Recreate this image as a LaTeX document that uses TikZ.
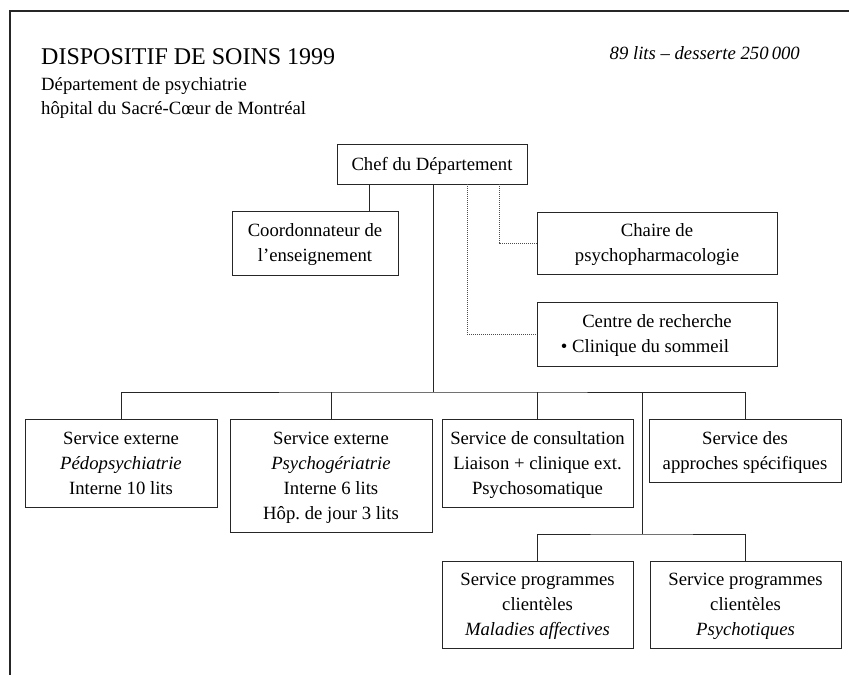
\documentclass[tikz,border=0pt]{standalone}
\usepackage{fontspec}
\setmainfont{Liberation Serif}
\frenchspacing
\begin{document}
\begin{tikzpicture}[x=1pt,y=-1pt,
  box/.style={draw=black!85, line width=0.9pt, inner sep=0pt, align=center,
    text depth=0pt, font=\fontsize{18.7}{25}\selectfont\frenchspacing},
  link/.style={draw=black!85, line width=0.9pt},
  dotlink/.style={draw=black!70, line width=0.9pt, dash pattern=on 1pt off 1pt},
  frame/.style={draw=black!85, line width=1.4pt}]
\useasboundingbox (0,0) rectangle (849,675);
% frame
\coordinate (fa) at (849,11);
\coordinate (fb) at (10,11);
\coordinate (fc) at (10,675);
\draw[frame] (fa) -- (fb) -- (fc);
% header texts
\node[anchor=base west, inner sep=0pt, font=\fontsize{24}{28}\selectfont] (title) at (41,64) {DISPOSITIF DE SOINS 1999};
\node[anchor=base west, inner sep=0pt, font=\fontsize{18.7}{24}\selectfont] (sub1) at (41,90) {Département de psychiatrie};
\node[anchor=base west, inner sep=0pt, font=\fontsize{18.7}{24}\selectfont] (sub2) at (41,114) {hôpital du Sacré-Cœur de Montréal};
\node[anchor=base east, inner sep=0pt, font=\fontsize{18.7}{24}\selectfont\itshape] (info) at (800,59) {89 lits -- desserte 250\,000};
% boxes
\node[box, minimum width=190, minimum height=40] (chef) at (432,164) {Chef du Département};
\node[box, minimum width=166, minimum height=64] (coord) at (315,243) {Coordonnateur de\\l’enseignement};
\node[box, minimum width=240, minimum height=62] (chaire) at (657,243) {Chaire de\\psychopharmacologie};
\node[box, minimum width=240, minimum height=64] (centre) at (657,334) {Centre de recherche\\\textbullet\ Clinique du sommeil\hspace*{24pt}};
\node[box, minimum width=192, minimum height=88] (s1) at (121,463) {Service externe\\\textit{Pédopsychiatrie}\\Interne 10 lits};
\node[box, minimum width=202, minimum height=113] (s2) at (331,475.5) {Service externe\\\textit{Psychogériatrie}\\Interne 6 lits\\Hôp. de jour 3 lits};
\node[box, minimum width=191, minimum height=88] (s3) at (537.5,463) {Service de consultation\\Liaison + clinique ext.\\Psychosomatique};
\node[box, minimum width=192, minimum height=63] (s4) at (745,450.5) {Service des\\approches spécifiques};
\node[box, minimum width=191, minimum height=87] (s5) at (537.5,604.5) {Service programmes\\clientèles\\\textit{Maladies affectives}};
\node[box, minimum width=191, minimum height=87] (s6) at (745.5,604.5) {Service programmes\\clientèles\\\textit{Psychotiques}};
% connectors
\coordinate (j0) at (433,392);
\coordinate (j1) at (642,392);
\coordinate (j2) at (642,534);
\draw[link] (chef.south -| j0) -- (j0);
\draw[link] (s1.north) |- (j0) -| (s4.north);
\draw[link] (s2.north) -- (s2.north |- j0);
\draw[link] (s3.north) -- (s3.north |- j0);
\draw[link] (j1) -- (j2);
\draw[link] (s5.north) |- (j2) -| (s6.north);
\draw[link] ([xshift=54pt]coord.north) -- ([xshift=54pt]coord.north |- chef.south);
\draw[dotlink] ([xshift=35pt]chef.south) |- (centre.west);
\draw[dotlink] ([xshift=67pt]chef.south) |- (chaire.west);
\end{tikzpicture}
\end{document}
